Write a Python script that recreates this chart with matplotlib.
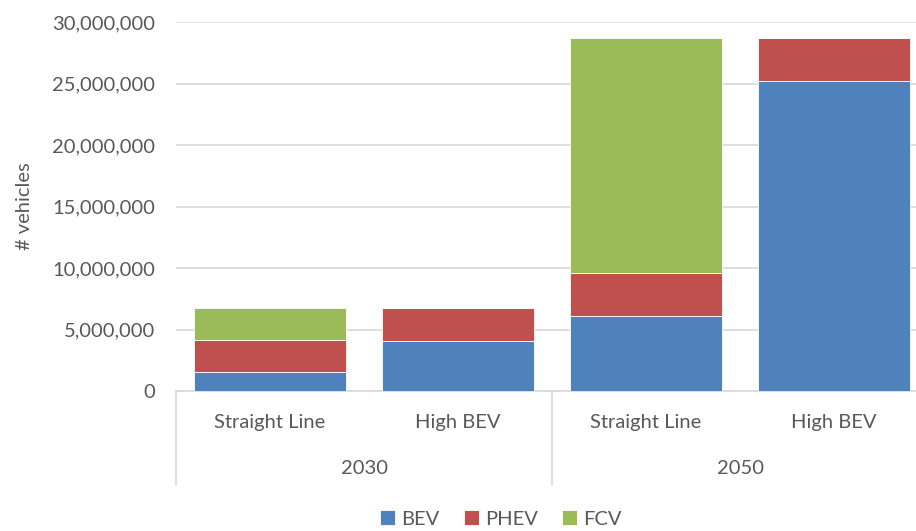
import matplotlib
matplotlib.use("Agg")
import matplotlib.pyplot as plt
import matplotlib.transforms as mtransforms
from matplotlib.ticker import FuncFormatter, MultipleLocator
import numpy as np

plt.rcParams['font.family'] = ['Lato', 'DejaVu Sans']

# data
scenarios = ["Straight Line", "High BEV", "Straight Line", "High BEV"]
years = ["2030", "2050"]
bev = [1.54e6, 4.04e6, 6.12e6, 25.2e6]
phev = [2.61e6, 2.71e6, 3.50e6, 3.50e6]
fcv = [2.60e6, 0.0, 19.08e6, 0.0]

colors = {"BEV": "#4F81BD", "PHEV": "#C0504D", "FCV": "#9BBB59"}
text_col = "#595959"
grid_col = "#D9D9D9"
fs = 14.5

fig = plt.figure(figsize=(9.16, 5.31), dpi=100)
W, H = 916, 531
# axes in pixel terms: left 176, right 928 (clipped by figure), top 22, bottom 391
ax = fig.add_axes([176 / W, (H - 391) / H, 752 / W, (391 - 22) / H])

x = np.arange(len(scenarios))
w = 0.81
bottom = np.zeros(len(x))
for name, vals in [("BEV", bev), ("PHEV", phev), ("FCV", fcv)]:
    vals = np.array(vals)
    ax.bar(x, vals, w, bottom=bottom, color=colors[name], label=name,
           edgecolor="white", linewidth=0.6, zorder=3)
    bottom += vals

ax.set_xlim(-0.5, 3.5)
ax.set_ylim(0, 30e6)
ax.yaxis.set_major_locator(MultipleLocator(5e6))
ax.yaxis.set_major_formatter(FuncFormatter(lambda v, p: f"{int(v):,}"))
ax.grid(axis="y", color=grid_col, linewidth=1.2, zorder=0)
ax.set_axisbelow(True)
for s in ["top", "right", "left"]:
    ax.spines[s].set_visible(False)
ax.spines["bottom"].set_color(grid_col)
ax.spines["bottom"].set_linewidth(1.2)
ax.tick_params(axis="y", length=0, labelsize=fs, labelcolor=text_col, pad=15)
ax.tick_params(axis="x", length=0, labelsize=fs, labelcolor=text_col, pad=16.5)
ax.set_xticks(x)
ax.set_xticklabels(scenarios)

ax.set_ylabel("# vehicles", fontsize=fs, color=text_col)
ax.yaxis.set_label_coords(-0.19, 0.5)

# two-level category axis: separators and group labels
trans = mtransforms.blended_transform_factory(ax.transData, ax.transAxes)
box_h = 94 / 369
for xs in [-0.5, 1.5, 3.5]:
    ax.plot([xs, xs], [0, -box_h], transform=trans, color=grid_col,
            linewidth=1.2, clip_on=False)
for i, yr in enumerate(years):
    ax.text(0.5 + 2 * i, -78 / 369, yr, transform=trans, ha="center",
            va="center", fontsize=fs, color=text_col)

fig.legend(loc="center", bbox_to_anchor=(501 / W, 12 / H), ncol=3,
           frameon=False, fontsize=fs, labelcolor=text_col,
           handlelength=0.75, handleheight=0.75, handletextpad=0.3,
           columnspacing=1.2)

plt.savefig("out.png", dpi=100)
